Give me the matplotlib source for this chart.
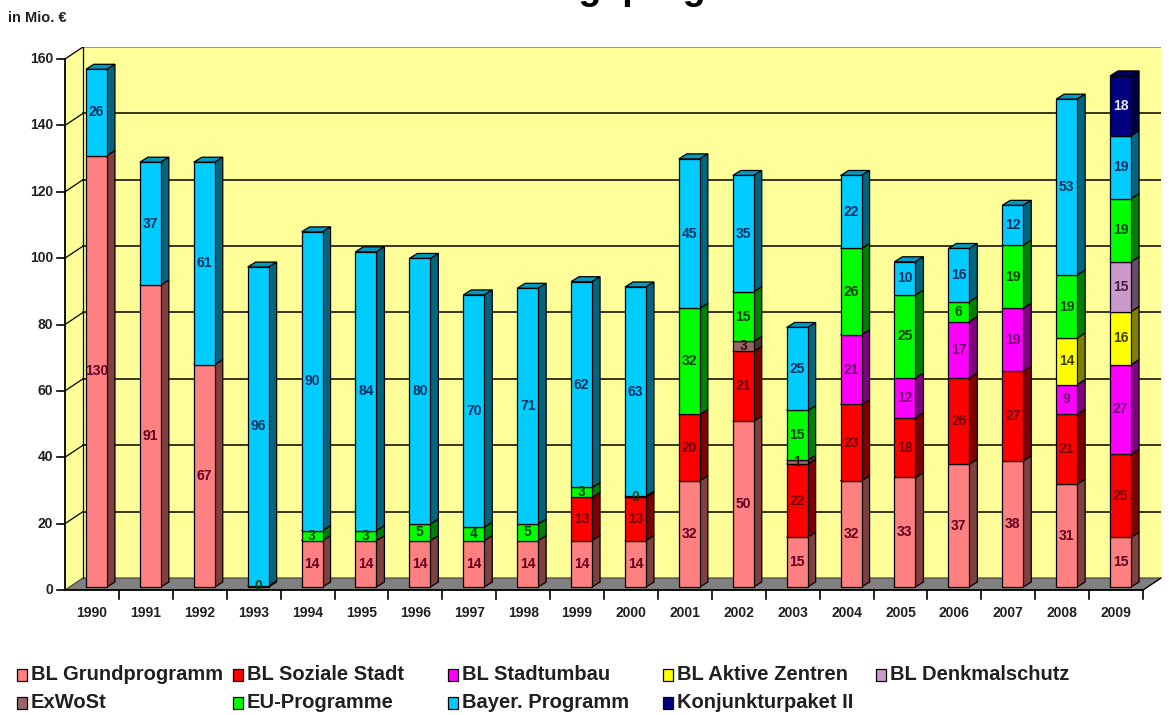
import matplotlib
matplotlib.use('Agg')
import matplotlib.pyplot as plt
from matplotlib.patches import Polygon, Rectangle
import numpy as np

plt.rcParams['font.family'] = ['Liberation Sans', 'DejaVu Sans']

# ---------------- data ----------------
years = [str(y) for y in range(1990, 2010)]
series_names = ["BL Grundprogramm", "BL Soziale Stadt", "BL Stadtumbau", "BL Aktive Zentren",
                "BL Denkmalschutz", "ExWoSt", "EU-Programme", "Bayer. Programm", "Konjunkturpaket II"]
grundprogramm = [130, 91, 67, 0, 14, 14, 14, 14, 14, 14, 14, 32, 50, 15, 32, 33, 37, 38, 31, 15]
soziale_stadt = [0, 0, 0, 0, 0, 0, 0, 0, 0, 13, 13, 20, 21, 22, 23, 18, 26, 27, 21, 25]
stadtumbau = [0, 0, 0, 0, 0, 0, 0, 0, 0, 0, 0, 0, 0, 0, 21, 12, 17, 19, 9, 27]
aktive_zentren = [0, 0, 0, 0, 0, 0, 0, 0, 0, 0, 0, 0, 0, 0, 0, 0, 0, 0, 14, 16]
denkmalschutz = [0, 0, 0, 0, 0, 0, 0, 0, 0, 0, 0, 0, 0, 0, 0, 0, 0, 0, 0, 15]
exwost = [0, 0, 0, 0, 0, 0, 0, 0, 0, 0, 0, 0, 3, 1.2, 0, 0, 0, 0, 0, 0]
eu_programme = [0, 0, 0, 0.4, 3, 3, 5, 4, 5, 3, 0.4, 32, 15, 15, 26, 25, 6, 19, 19, 19]
bayer_programm = [26, 37, 61, 96, 90, 84, 80, 70, 71, 62, 63, 45, 35, 25, 22, 10, 16, 12, 53, 19]
konjunkturpaket = [0, 0, 0, 0, 0, 0, 0, 0, 0, 0, 0, 0, 0, 0, 0, 0, 0, 0, 0, 18]
y_ticks = [0, 20, 40, 60, 80, 100, 120, 140, 160]

series = [grundprogramm, soziale_stadt, stadtumbau, aktive_zentren, denkmalschutz,
          exwost, eu_programme, bayer_programm, konjunkturpaket]
colors = ["#FF8080", "#FF0000", "#FF00FF", "#FFFF00", "#CC99CC",
          "#996666", "#00FF00", "#00CCFF", "#000080"]
label_colors = ["#600020", "#700000", "#700070", "#404000", "#402040",
                "#301010", "#004000", "#003060", "#E8E8E8"]

# ---------------- geometry ----------------
W, H = 1169, 715
fig = plt.figure(figsize=(W / 100, H / 100), dpi=100)
ax_left, ax_right = 65, 1161
ax_bottom, ax_top = 590, 47
ax = fig.add_axes([ax_left / W, (H - ax_bottom) / H, (ax_right - ax_left) / W, (ax_bottom - ax_top) / H])

n = len(years)
px_x = 53.9
px_y = 3.317
WX = 18 / px_x      # wall depth (x)
WY = 12 / px_y      # wall depth (y)
BX0 = 4.5 / px_x    # bar front offset
BY0 = 3.0 / px_y
BW = 21 / px_x      # bar width
BDX = 8 / px_x      # bar depth
BDY = 5 / px_y
ymax_axis = y_ticks[-1]

ax.set_xlim(0, n + WX)
ax.set_ylim(0, ymax_axis + WY)
ax.axis('off')

def darker(c, f):
    r, g, b = matplotlib.colors.to_rgb(c)
    return (r * f, g * f, b * f)

wall_col = "#FFFF99"
# back wall
ax.add_patch(Polygon([(WX, WY), (n + WX, WY), (n + WX, ymax_axis + WY), (WX, ymax_axis + WY)],
                     closed=True, facecolor=wall_col, edgecolor="none", zorder=1))
# side wall
ax.add_patch(Polygon([(0, 0), (WX, WY), (WX, ymax_axis + WY), (0, ymax_axis)],
                     closed=True, facecolor=wall_col, edgecolor="none", zorder=1))
# floor
ax.add_patch(Polygon([(0, 0), (n, 0), (n + WX, WY), (WX, WY)],
                     closed=True, facecolor="#808080", edgecolor="#404040", lw=0.8, zorder=2))
# grid lines
for v in y_ticks[1:]:
    col = "black" if v < ymax_axis else "#808070"
    ax.plot([WX, n + WX], [v + WY, v + WY], color=col, lw=1.1, zorder=2)
    ax.plot([0, WX], [v, v + WY], color="black", lw=0.9, zorder=2)
ax.plot([WX, WX], [WY, ymax_axis + WY], color="black", lw=0.9, zorder=2)

# front axes
ax.plot([0, 0], [0, ymax_axis], color="black", lw=1.3, zorder=3, clip_on=False)
ax.plot([0, n], [0, 0], color="black", lw=1.3, zorder=3, clip_on=False)
ax.plot([n, n + WX], [0, WY], color="black", lw=0.9, zorder=3, clip_on=False)
tick_len_x = 8 / px_x
tick_len_y = 9 / px_y
for v in y_ticks:
    ax.plot([-tick_len_x, 0], [v, v], color="black", lw=1.2, zorder=3, clip_on=False)
    ax.text(-12 / px_x, v, str(v), ha='right', va='center', fontsize=10, fontweight='bold',
            color="#202020", clip_on=False)
for i in range(1, n + 1):
    ax.plot([i, i], [0, -tick_len_y], color="black", lw=1.2, zorder=3, clip_on=False)
for i, yr in enumerate(years):
    ax.text(i + 0.5, -23 / px_y, yr, ha='center', va='center', fontsize=10, fontweight='bold',
            color="#202020", clip_on=False)

# bars
z = 10
for i in range(n):
    base = BY0
    x0 = i + 0.5 - BW / 2 + BX0
    x1 = x0 + BW
    for s, vals in enumerate(series):
        v = vals[i]
        if v <= 0:
            continue
        top = base + v
        c = colors[s]
        ax.add_patch(Polygon([(x0, top), (x1, top), (x1 + BDX, top + BDY), (x0 + BDX, top + BDY)],
                             closed=True, facecolor=darker(c, 0.75), edgecolor="black", lw=0.9, zorder=z))
        ax.add_patch(Polygon([(x1, base), (x1 + BDX, base + BDY), (x1 + BDX, top + BDY), (x1, top)],
                             closed=True, facecolor=darker(c, 0.5), edgecolor="black", lw=0.9, zorder=z + 1))
        ax.add_patch(Rectangle((x0, base), BW, v, facecolor=c, edgecolor="black", lw=0.9, zorder=z + 2))
        z += 3
        base = top
    base = BY0
    for s, vals in enumerate(series):
        v = vals[i]
        if v <= 0:
            continue
        ax.text((x0 + x1) / 2, base + v / 2, str(int(round(v))), ha='center', va='center',
                fontsize=10, fontweight='bold', color=label_colors[s], zorder=500)
        base += v

# top texts
fig.text(8 / W, 1 - 18 / H, "in Mio. €", ha='left', va='center', fontsize=10.5,
         fontweight='bold', color="#202020")
# title of the original slide, cut off at the top edge as in the reference
fig.text(830 / W, 1 + 0.5 / H, "Städtebauförderungsprogramme", ha='right', va='baseline',
         fontsize=27, fontweight='bold', color="black")

# legend
leg_cols = [17, 233, 448, 663, 876]
leg_rows = [675, 703]
order = [(0, 0, 0), (1, 0, 1), (2, 0, 2), (3, 0, 3), (4, 0, 4),
         (5, 1, 0), (6, 1, 1), (7, 1, 2), (8, 1, 3)]
for s, r, cidx in order:
    x = leg_cols[cidx]
    y = leg_rows[r]
    fig.add_artist(Rectangle((x / W, 1 - (y + 6) / H), 10 / W, 12 / H, facecolor=colors[s],
                             edgecolor="black", lw=0.9, transform=fig.transFigure))
    fig.text((x + 14) / W, 1 - y / H, series_names[s], ha='left', va='center', fontsize=14.5,
             fontweight='bold', color="#202020")

fig.savefig("out.png", dpi=100)
